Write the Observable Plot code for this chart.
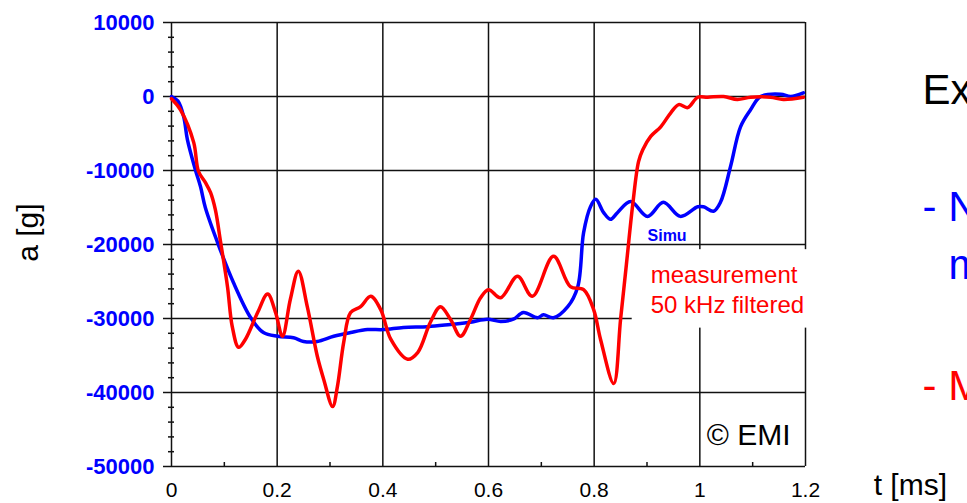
<!DOCTYPE html>
<html>
<head>
<meta charset="utf-8">
<script src="https://cdn.jsdelivr.net/npm/d3@7"></script>
<script src="https://cdn.jsdelivr.net/npm/@observablehq/plot@0.6"></script>
<style>
  html, body { margin: 0; padding: 0; background: #fff; }
  #chart svg { display: block; }
</style>
</head>
<body>
<div id="chart"></div>
<script>
// ---- data ----
const simuT = [0, 0.012, 0.023, 0.030, 0.045, 0.055, 0.064, 0.087, 0.117, 0.150, 0.174, 0.201, 0.231, 0.250, 0.276, 0.307, 0.339, 0.371, 0.401, 0.439, 0.485, 0.528, 0.566, 0.598, 0.623, 0.647, 0.666, 0.693, 0.704, 0.723, 0.750, 0.769, 0.780, 0.793, 0.803, 0.818, 0.831, 0.844, 0.869, 0.901, 0.931, 0.963, 0.996, 1.007, 1.026, 1.039, 1.058, 1.077, 1.096, 1.115, 1.153, 1.172, 1.196];
const simuA = [0, -600, -2700, -5800, -9860, -12200, -15000, -19700, -25100, -29900, -31900, -32400, -32600, -33100, -33100, -32400, -31900, -31500, -31500, -31200, -31100, -30800, -30500, -30100, -30400, -30100, -29200, -29900, -29500, -29900, -28400, -25700, -18400, -14900, -13900, -15700, -16600, -15700, -14200, -16200, -14300, -16200, -14900, -14900, -15500, -14300, -9500, -4100, -1800, 0, 300, 0, 500];

const measT = [0, 0.017, 0.042, 0.051, 0.064, 0.074, 0.083, 0.093, 0.106, 0.115, 0.127, 0.140, 0.163, 0.182, 0.197, 0.210, 0.225, 0.240, 0.257, 0.276, 0.288, 0.305, 0.314, 0.326, 0.339, 0.358, 0.377, 0.396, 0.415, 0.447, 0.466, 0.490, 0.509, 0.528, 0.547, 0.566, 0.585, 0.600, 0.623, 0.655, 0.683, 0.723, 0.755, 0.780, 0.799, 0.812, 0.837, 0.850, 0.861, 0.873, 0.884, 0.892, 0.907, 0.926, 0.945, 0.960, 0.977, 0.996, 1.015, 1.045, 1.071, 1.096, 1.134, 1.158, 1.196];
const measA = [-300, -1800, -6200, -10100, -11600, -13000, -15300, -19700, -25700, -31100, -33900, -32800, -29200, -26700, -29200, -32400, -27400, -23600, -28400, -35100, -38200, -41900, -39200, -33200, -29200, -28400, -27000, -28800, -32800, -35500, -34600, -30500, -28400, -30100, -32400, -30100, -27200, -26100, -27200, -24300, -27000, -21600, -25700, -26100, -28800, -32800, -38800, -30100, -22700, -14600, -8800, -7200, -5400, -4100, -2200, -1100, -1500, -100, -100, 0, -400, -100, -100, -400, -100];

const xTicks = [0, 0.2, 0.4, 0.6, 0.8, 1, 1.2];
const xMinorTicks = [0.1, 0.3, 0.5, 0.7, 0.9, 1.1];
const yTicks = [10000, 0, -10000, -20000, -30000, -40000, -50000];
const yMinorTicks = d3.range(-48000, 10000, 2000).filter(v => v % 10000 !== 0);

// annotation texts and anchors (data units)
const labelBox = [{x1: 0.872, x2: 1.215, y1: -20700, y2: -31300}];
const simuLabel = [{x: 0.901, y: -19500, text: "Simu"}];
const measLabel = [{x: 0.907, y: -29300, text: "measurement\n50 kHz filtered"}];
const emiLabel = [{x: 1.013, y: -47100, text: "© EMI"}];
const xTitle = [{x: 1.329, y: -53900, text: "t [ms]"}];
const yTitle = [{x: -0.271, y: -18400, text: "a [g]"}];
const sideTexts = [
  {x: 1.4215, y: -950, text: "Ex", color: "black"},
  {x: 1.4215, y: -16760, text: "- N", color: "blue"},
  {x: 1.4707, y: -24600, text: "m", color: "blue"},
  {x: 1.4215, y: -41080, text: "- M", color: "red"}
];

const simu = simuT.map((t, i) => ({t, a: simuA[i]}));
const meas = measT.map((t, i) => ({t, a: measA[i]}));

const FONT = "'Liberation Sans', Arial, Helvetica, sans-serif";
const GRID = "#111";

const chart = Plot.plot({
  width: 967,
  height: 503,
  marginLeft: 171,
  marginRight: 162,
  marginTop: 22,
  marginBottom: 37,
  style: {fontFamily: FONT, background: "white", overflow: "visible"},
  x: {domain: [0, 1.2]},
  y: {domain: [-50000, 10000]},
  marks: [
    Plot.gridX(xTicks, {stroke: GRID, strokeOpacity: 1, strokeWidth: 1.5}),
    Plot.gridY(yTicks, {stroke: GRID, strokeOpacity: 1, strokeWidth: 1.5}),
    Plot.axisY(yTicks, {
      anchor: "left", tickSize: 8, tickPadding: 9, stroke: GRID, strokeWidth: 1.5,
      fill: "#0000ff", fontSize: 22, fontWeight: "bold",
      tickFormat: d => String(d), label: null
    }),
    Plot.axisY(yMinorTicks, {anchor: "left", tickSize: 6, dx: 3, stroke: GRID, strokeWidth: 1.5, text: null, label: null}),
    Plot.axisX(xTicks, {
      anchor: "bottom", tickSize: 0, tickPadding: 16, fill: "black", fontSize: 21,
      tickFormat: d => String(d), label: null
    }),
    Plot.axisX(xMinorTicks, {anchor: "bottom", tickSize: 4, dy: -4, stroke: GRID, strokeWidth: 1.5, text: null, label: null}),
    Plot.rect(labelBox, {x1: "x1", x2: "x2", y1: "y1", y2: "y2", fill: "white"}),
    Plot.line(simu, {x: "t", y: "a", stroke: "#0000ff", strokeWidth: 3.5, curve: "catmull-rom"}),
    Plot.line(meas, {x: "t", y: "a", stroke: "#ff0000", strokeWidth: 3.5, curve: "catmull-rom"}),
    Plot.text(simuLabel, {x: "x", y: "y", text: "text", fill: "#0000ff", fontSize: 16, fontWeight: "bold", textAnchor: "start", lineAnchor: "bottom"}),
    Plot.text(measLabel, {x: "x", y: "y", text: "text", fill: "#ff0000", fontSize: 24, textAnchor: "start", lineAnchor: "bottom", lineHeight: 1.25}),
    Plot.text(emiLabel, {x: "x", y: "y", text: "text", fill: "black", fontSize: 30, textAnchor: "start", lineAnchor: "bottom"}),
    Plot.text(xTitle, {x: "x", y: "y", text: "text", fill: "black", fontSize: 30, textAnchor: "start", lineAnchor: "bottom"}),
    Plot.text(yTitle, {x: "x", y: "y", text: "text", fill: "black", fontSize: 30, rotate: -90, textAnchor: "middle", lineAnchor: "middle"}),
    Plot.text(sideTexts, {x: "x", y: "y", text: "text", fill: "color", fontSize: 42, textAnchor: "start", lineAnchor: "bottom"})
  ]
});
document.getElementById("chart").appendChild(chart);
</script>
</body>
</html>
